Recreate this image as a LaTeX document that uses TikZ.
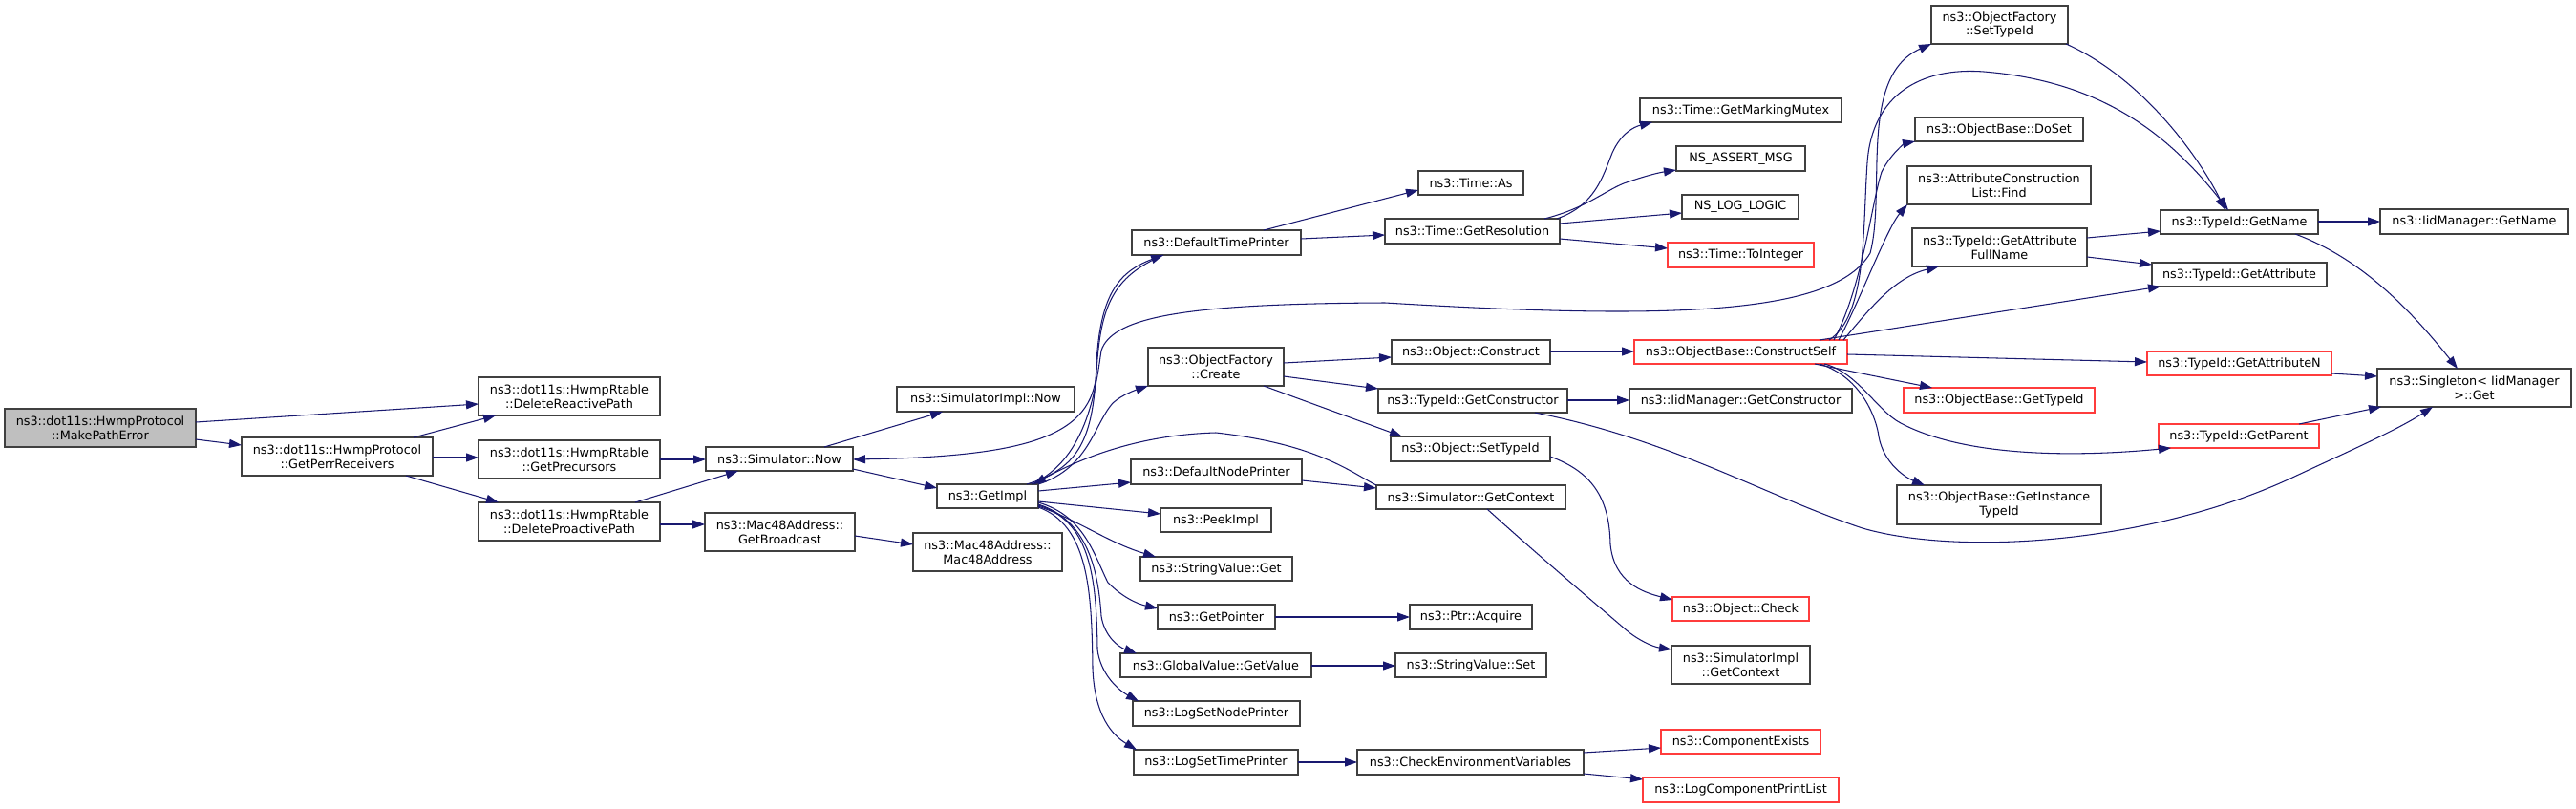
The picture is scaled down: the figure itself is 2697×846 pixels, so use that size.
\documentclass[tikz,border=0pt]{standalone}
\usepackage{fontspec}
\setmainfont{DejaVu Sans}
\usetikzlibrary{arrows.meta}
\definecolor{edgec}{HTML}{191970}
\definecolor{redc}{HTML}{FF3C3C}
\definecolor{greyfill}{HTML}{BFBFBF}
\newcommand{\bx}[7][]{\node[box,#1,minimum width={(#4-#2)*1pt},minimum height={(#5-#3)*1pt}] (#6) at ({(#2+#4)/2},{-(#3+#5)/2}) {#7};}
\begin{document}
\begin{tikzpicture}[x=1pt,y=1pt,
  box/.style={draw=black!75,line width=1.4pt,fill=white,inner sep=0pt,outer sep=0pt,align=center,
    font=\fontsize{12.8}{14.5}\selectfont},
  redbox/.style={draw=redc},
  rootbox/.style={fill=greyfill},
  e/.style={draw=edgec,line width=1.05pt,-{Triangle[length=13pt,width=9pt]}}]
\useasboundingbox[fill=white] (0,0) rectangle (2697,-846);
% nodes
\bx[rootbox]{5}{428}{205}{468}{mpe}{ns3::dot11s::HwmpProtocol\\::MakePathError}
\bx{253}{458}{453}{498}{gpr}{ns3::dot11s::HwmpProtocol\\::GetPerrReceivers}
\bx{501}{395}{691}{435}{drp}{ns3::dot11s::HwmpRtable\\::DeleteReactivePath}
\bx{501}{461}{691}{501}{gpc}{ns3::dot11s::HwmpRtable\\::GetPrecursors}
\bx{501}{526}{691}{566}{dpp}{ns3::dot11s::HwmpRtable\\::DeleteProactivePath}
\bx{739}{468}{893}{493}{snow}{ns3::Simulator::Now}
\bx{738}{537}{895}{577}{gbc}{ns3::Mac48Address::\\GetBroadcast}
\bx{939}{405}{1125}{431}{sinow}{ns3::SimulatorImpl::Now}
\bx{981}{507}{1087}{532}{gimpl}{ns3::GetImpl}
\bx{956}{558}{1112}{598}{mac}{ns3::Mac48Address::\\Mac48Address}
\bx{1185}{241}{1362}{267}{dtp}{ns3::DefaultTimePrinter}
\bx{1202}{364}{1344}{404}{ofc}{ns3::ObjectFactory\\::Create}
\bx{1184}{481}{1363}{507}{dnp}{ns3::DefaultNodePrinter}
\bx{1215}{532}{1331}{557}{peek}{ns3::PeekImpl}
\bx{1194}{583}{1353}{608}{svg}{ns3::StringValue::Get}
\bx{1212}{633}{1335}{659}{gptr}{ns3::GetPointer}
\bx{1173}{684}{1373}{709}{gvv}{ns3::GlobalValue::GetValue}
\bx{1186}{734}{1361}{760}{lsnp}{ns3::LogSetNodePrinter}
\bx{1187}{785}{1359}{811}{lstp}{ns3::LogSetTimePrinter}
\bx{1485}{179}{1595}{204}{tas}{ns3::Time::As}
\bx{1450}{229}{1633}{255}{tgr}{ns3::Time::GetResolution}
\bx{1457}{356}{1623}{381}{oc}{ns3::Object::Construct}
\bx{1443}{407}{1641}{432}{tgc}{ns3::TypeId::GetConstructor}
\bx{1456}{457}{1623}{483}{ost}{ns3::Object::SetTypeId}
\bx{1441}{508}{1639}{533}{sgc}{ns3::Simulator::GetContext}
\bx{1476}{633}{1604}{659}{pacq}{ns3::Ptr::Acquire}
\bx{1461}{684}{1619}{709}{svs}{ns3::StringValue::Set}
\bx{1421}{785}{1658}{811}{cev}{ns3::CheckEnvironmentVariables}
\bx{1717}{103}{1928}{128}{gmm}{ns3::Time::GetMarkingMutex}
\bx{1755}{153}{1890}{179}{nam}{NS\_ASSERT\_MSG}
\bx{1761}{204}{1883}{229}{nll}{NS\_LOG\_LOGIC}
\bx[redbox]{1746}{254}{1899}{280}{tti}{ns3::Time::ToInteger}
\bx[redbox]{1711}{356}{1934}{381}{cs}{ns3::ObjectBase::ConstructSelf}
\bx{1706}{407}{1939}{432}{igc}{ns3::IidManager::GetConstructor}
\bx[redbox]{1751}{625}{1894}{650}{och}{ns3::Object::Check}
\bx{1750}{676}{1895}{716}{sigc}{ns3::SimulatorImpl\\::GetContext}
\bx[redbox]{1739}{764}{1906}{789}{ce}{ns3::ComponentExists}
\bx[redbox]{1720}{814}{1925}{840}{lcpl}{ns3::LogComponentPrintList}
\bx{2022}{6}{2165}{46}{ofst}{ns3::ObjectFactory\\::SetTypeId}
\bx{2005}{123}{2181}{148}{dos}{ns3::ObjectBase::DoSet}
\bx{1997}{174}{2189}{214}{acf}{ns3::AttributeConstruction\\List::Find}
\bx{2002}{239}{2185}{279}{gafn}{ns3::TypeId::GetAttribute\\FullName}
\bx[redbox]{1993}{406}{2193}{432}{gtid}{ns3::ObjectBase::GetTypeId}
\bx{1986}{508}{2200}{549}{git}{ns3::ObjectBase::GetInstance\\TypeId}
\bx{2262}{220}{2427}{245}{tgn}{ns3::TypeId::GetName}
\bx{2253}{275}{2436}{300}{tga}{ns3::TypeId::GetAttribute}
\bx[redbox]{2248}{368}{2441}{393}{tgan}{ns3::TypeId::GetAttributeN}
\bx[redbox]{2260}{444}{2428}{469}{tgp}{ns3::TypeId::GetParent}
\bx{2492}{219}{2689}{245}{ign}{ns3::IidManager::GetName}
\bx{2489}{386}{2692}{426}{sig}{ns3::Singleton< IidManager\\>::Get}
% edges
\draw[e] (mpe.east |- 0,-442) -- (drp.west |- 0,-423);
\draw[e] (mpe.east |- 0,-460) -- (gpr.west |- 0,-466);
\draw[e] (433,0 |- gpr.north) -- (519,0 |- drp.south);
\draw[e] (gpr.east |- 0,-479) -- (gpc.west |- 0,-479);
\draw[e] (425,0 |- gpr.south) -- (522,0 |- dpp.north);
\draw[e] (gpc.east |- 0,-481) -- (snow.west |- 0,-481);
\draw[e] (665,0 |- dpp.north) -- (773,0 |- snow.south);
\draw[e] (dpp.east |- 0,-549) -- (gbc.west |- 0,-549);
\draw[e] (gbc.east |- 0,-561) -- (mac.west |- 0,-570);
\draw[e] (863,0 |- snow.north) -- (987,0 |- sinow.south);
\draw[e] (snow.east |- 0,-491) -- (gimpl.west |- 0,-511);
% GetImpl
\draw[e] (1075,0 |- gimpl.north) .. controls (1130,-490) and (1145,-460) .. (1148,-380) .. controls (1152,-310) and (1170,-285) .. (1218,0 |- dtp.south);
\draw[e] (1218,0 |- dtp.south) .. controls (1165,-290) and (1152,-320) .. (1148,-390) .. controls (1143,-455) and (1080,-478) .. (snow.east |- 0,-481);
\draw[e] (1080,0 |- gimpl.north) .. controls (1140,-480) and (1148,-400) .. (1153,-367) .. controls (1165,-330) and (1250,-318) .. (1450,-317) .. controls (1750,-335) and (1920,-330) .. (1958,-265) .. controls (1975,-200) and (1945,-80) .. (ofst.south west);
\draw[e] (gimpl.north east) .. controls (1140,-490) and (1145,-445) .. (1165,-422) .. controls (1175,-413) and (1190,-408) .. (ofc.south west);
\draw[e] (gimpl.east |- 0,-514) -- (dnp.west |- 0,-505);
\draw[e] (gimpl.east |- 0,-525) -- (peek.west |- 0,-538);
\draw[e] (gimpl.east |- 0,-530) .. controls (1130,-545) and (1160,-568) .. (1210,0 |- svg.north);
\draw[e] (gimpl.east |- 0,-526) .. controls (1135,-540) and (1145,-580) .. (1160,-610) .. controls (1175,-625) and (1190,-632) .. (gptr.west |- 0,-637);
\draw[e] (gimpl.east |- 0,-528) .. controls (1140,-545) and (1150,-600) .. (1153,-645) .. controls (1156,-665) and (1170,-677) .. (1190,0 |- gvv.north);
\draw[e] (gimpl.east |- 0,-529) .. controls (1140,-545) and (1148,-600) .. (1149,-680) .. controls (1152,-705) and (1170,-722) .. (1192,0 |- lsnp.north);
\draw[e] (gimpl.east |- 0,-531) .. controls (1140,-550) and (1143,-620) .. (1144,-700) .. controls (1146,-750) and (1165,-770) .. (1190,0 |- lstp.north);
\draw[e] (sgc.north west) .. controls (1415,-495) and (1380,-465) .. (1273,-453) .. controls (1200,-455) and (1140,-475) .. (1082,0 |- gimpl.north);
% DefaultTimePrinter, GetResolution
\draw[e] (1323,0 |- dtp.north) -- (tas.west |- 0,-199);
\draw[e] (dtp.east |- 0,-250) -- (tgr.west |- 0,-246);
\draw[e] (1630,0 |- tgr.north) .. controls (1670,-215) and (1678,-185) .. (1688,-160) .. controls (1697,-140) and (1710,-133) .. (1730,0 |- gmm.south);
\draw[e] (1617,0 |- tgr.north) .. controls (1660,-218) and (1680,-200) .. (1700,-192) .. controls (1720,-185) and (1735,-181) .. (nam.west |- 0,-178);
\draw[e] (tgr.east |- 0,-234) -- (nll.west |- 0,-223);
\draw[e] (tgr.east |- 0,-250) -- (tti.west |- 0,-260);
% ObjectFactory::Create
\draw[e] (ofc.east |- 0,-380) -- (oc.west |- 0,-374);
\draw[e] (ofc.east |- 0,-394) -- (tgc.north west);
\draw[e] (1323,0 |- ofc.south) -- (1468,0 |- ost.north);
\draw[e] (oc.east |- 0,-368) -- (cs.west |- 0,-368);
\draw[e] (tgc.east |- 0,-419) -- (igc.west |- 0,-419);
\draw[e] (1607,0 |- tgc.south) .. controls (1750,-460) and (1850,-520) .. (1950,-553) .. controls (2050,-582) and (2250,-570) .. (2400,-500) .. controls (2460,-472) and (2510,-450) .. (2547,0 |- sig.south);
\draw[e] (ost.east |- 0,-478) .. controls (1670,-495) and (1685,-525) .. (1686,-570) .. controls (1690,-610) and (1720,-620) .. (och.west |- 0,-628);
\draw[e] (dnp.east |- 0,-503) -- (sgc.west |- 0,-511);
\draw[e] (1557,0 |- sgc.south) .. controls (1620,-590) and (1680,-640) .. (1703,-660) .. controls (1715,-670) and (1730,-677) .. (sigc.west |- 0,-680);
\draw[e] (gptr.east |- 0,-646) -- (pacq.west |- 0,-646);
\draw[e] (gvv.east |- 0,-697) -- (svs.west |- 0,-697);
\draw[e] (lstp.east |- 0,-798) -- (cev.west |- 0,-798);
\draw[e] (cev.east |- 0,-788) -- (ce.west |- 0,-783);
\draw[e] (cev.east |- 0,-810) -- (lcpl.west |- 0,-816);
% ConstructSelf
\draw[e] (1915,0 |- cs.north) .. controls (1955,-330) and (1950,-240) .. (1955,-170) .. controls (1960,-100) and (2010,-70) .. (2077,-75) .. controls (2200,-85) and (2270,-140) .. (2333,0 |- tgn.north);
\draw[e] (1920,0 |- cs.north) .. controls (1950,-300) and (1960,-210) .. (1970,-180) .. controls (1980,-160) and (1995,-150) .. (dos.south west);
\draw[e] (1925,0 |- cs.north) .. controls (1945,-320) and (1975,-240) .. (acf.south west);
\draw[e] (1930,0 |- cs.north) .. controls (1960,-320) and (1985,-290) .. (2030,0 |- gafn.south);
\draw[e] (1905,0 |- cs.north) -- (2262,0 |- tga.south);
\draw[e] (cs.east |- 0,-371) -- (tgan.west |- 0,-379);
\draw[e] (1900,0 |- cs.south) -- (2023,0 |- gtid.north);
\draw[e] (1910,0 |- cs.south) .. controls (1945,-390) and (1965,-430) .. (1990,-443) .. controls (2060,-480) and (2180,-478) .. (2273,0 |- tgp.south);
\draw[e] (1905,0 |- cs.south) .. controls (1950,-395) and (1965,-440) .. (1967,-457) .. controls (1972,-485) and (1995,-500) .. (2015,0 |- git.north);
% right part
\draw[e] (2163,0 |- ofst.south) .. controls (2240,-80) and (2300,-160) .. (2330,0 |- tgn.north);
\draw[e] (gafn.east |- 0,-249) -- (tgn.west |- 0,-242);
\draw[e] (gafn.east |- 0,-269) -- (tga.west |- 0,-277);
\draw[e] (tgn.east |- 0,-232) -- (ign.west |- 0,-232);
\draw[e] (2403,0 |- tgn.south) .. controls (2470,-270) and (2520,-320) .. (2573,0 |- sig.north);
\draw[e] (tgan.east |- 0,-391) -- (sig.west |- 0,-394);
\draw[e] (2407,0 |- tgp.north) -- (2493,0 |- sig.south);
\end{tikzpicture}
\end{document}
